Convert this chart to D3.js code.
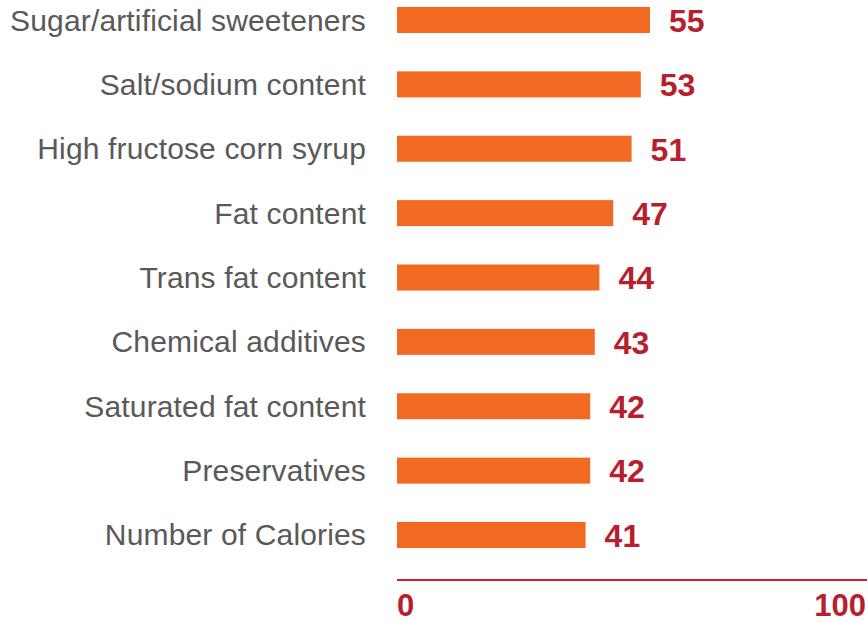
<!DOCTYPE html>
<html><head><meta charset="utf-8">
<script src="https://cdn.jsdelivr.net/npm/d3@7"></script>
<style>
html,body{margin:0;padding:0;background:#fff;}
svg{display:block;}
</style></head>
<body>
<script>
const categories = ["Sugar/artificial sweeteners","Salt/sodium content","High fructose corn syrup","Fat content","Trans fat content","Chemical additives","Saturated fat content","Preservatives","Number of Calories"];
const values = [55,53,51,47,44,43,42,42,41];
const tickLabels = ["0","100"];

const W = 868, H = 623;
const svg = d3.select("body").append("svg").attr("width", W).attr("height", H);

const x = d3.scaleLinear().domain([0,100]).range([397,857]);
const y = d3.scaleBand().domain(categories).range([7,548]).paddingInner(0.596).paddingOuter(0);

const font = "'Liberation Sans', Arial, sans-serif";

svg.selectAll("rect.bar").data(categories).enter().append("rect")
  .attr("class","bar")
  .attr("x", x(0))
  .attr("y", d => y(d))
  .attr("width", (d,i) => x(values[i]) - x(0))
  .attr("height", y.bandwidth())
  .attr("fill", "#f26a21");

svg.selectAll("text.cat").data(categories).enter().append("text")
  .attr("class","cat")
  .attr("x", 366)
  .attr("y", d => y(d) + y.bandwidth()/2)
  .attr("dy", "0.35em")
  .attr("text-anchor","end")
  .attr("font-family", font)
  .attr("font-size", 30)
  .attr("letter-spacing", 0.15)
  .attr("fill", "#595959")
  .text(d => d);

svg.selectAll("text.val").data(categories).enter().append("text")
  .attr("class","val")
  .attr("x", (d,i) => x(values[i]) + 19)
  .attr("y", d => y(d) + y.bandwidth()/2)
  .attr("dy", "0.37em")
  .attr("font-family", font)
  .attr("font-weight", "bold")
  .attr("font-size", 32)
  .attr("fill", "#b71f2e")
  .text((d,i) => values[i]);

const axisEnd = x(100) + 10;
svg.append("line")
  .attr("x1", x(0)).attr("x2", axisEnd)
  .attr("y1", 580).attr("y2", 580)
  .attr("stroke", "#c8202f").attr("stroke-width", 2);

svg.append("text")
  .attr("x", x(0)).attr("y", 616)
  .attr("font-family", font).attr("font-weight","bold").attr("font-size", 31)
  .attr("fill", "#b71f2e").attr("text-anchor","start")
  .text(tickLabels[0]);
svg.append("text")
  .attr("x", axisEnd - 1).attr("y", 616)
  .attr("font-family", font).attr("font-weight","bold").attr("font-size", 31)
  .attr("fill", "#b71f2e").attr("text-anchor","end")
  .text(tickLabels[1]);
</script>
</body></html>
